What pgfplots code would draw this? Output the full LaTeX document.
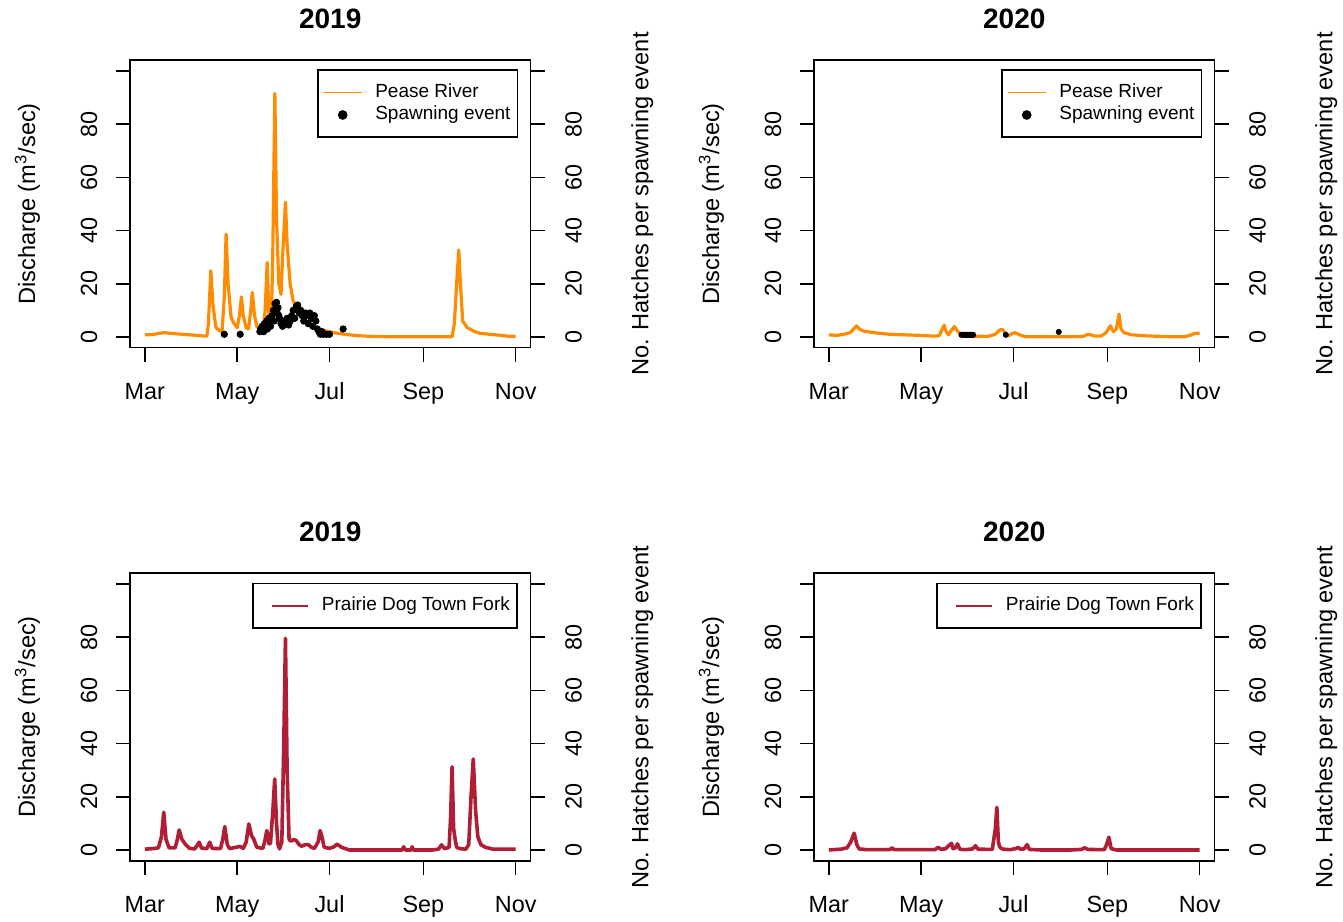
\documentclass[border=0pt]{standalone}
\usepackage{fontspec}
\setmainfont{Liberation Sans}
\usepackage{pgfplots}
\pgfplotsset{compat=1.18}
\definecolor{pease}{RGB}{255,140,0}
\definecolor{pdtf}{RGB}{175,30,52}

\pgfplotsset{
  base/.style={
    scale only axis, width=200.25pt, height=143.6pt,
    xmin=-9.8, xmax=254.8, ymin=-4, ymax=104,
    tick align=outside, major tick length=7pt,
    every tick/.style={black, line width=0.8pt},
    ytick={0,20,40,60,80,100}, yticklabels={0,20,40,60,80,{}},
    tick label style={font=\fontsize{11.7}{13}\selectfont},
    label style={font=\fontsize{11.8}{14}\selectfont},
    axis line style={line width=0.9pt},
  },
  leftax/.style={base,
    xtick={0,61,122,184,245}, xticklabels={Mar,May,Jul,Sep,Nov},
    xtick pos=left, ytick pos=left,
    xticklabel style={anchor=base, yshift=-19pt},
    yticklabel style={xshift=-13.5pt, rotate=90, anchor=center},
    ylabel={Discharge (m\textsuperscript{3}/sec)},
    ylabel style={at={(axis description cs:-0.2372,0.5)}, anchor=base},
    title style={font=\fontsize{14}{16}\selectfont\bfseries, at={(axis description cs:0.5,1)}, anchor=base, yshift=10pt},
    legend cell align=left,
    legend style={font=\fontsize{9.5}{11}\selectfont, draw=black, line width=0.8pt,
      anchor=north east, inner xsep=2.5pt, inner ysep=5.5pt,
      nodes={inner sep=1pt, text height=7pt, text depth=2.3pt},
      /tikz/every odd column/.append style={column sep=5.5pt}},
  },
  rightax/.style={base,
    axis y line*=right, axis x line=none,
    yticklabel style={xshift=14.5pt, rotate=90, anchor=center},
    ylabel={No. Hatches per spawning event},
    ylabel style={at={(axis description cs:1.2941,0.5)}, anchor=base},
  },
  pline/.style={pease, line width=1.6pt, line join=round, forget plot},
  rline/.style={pdtf, line width=1.8pt, line join=round, forget plot},
  spawn/.style={only marks, mark=*, mark size=1.6pt, black, forget plot},
}

\begin{document}
\begin{tikzpicture}
\useasboundingbox (0,0) rectangle (671.5pt,460.5pt);

% ---------------- Top left: Pease River 2019
\begin{axis}[leftax, at={(65pt,286.7pt)}, anchor=south west, title={2019},
  legend style={at={(0.9696,0.969)}}]
\addlegendimage{legend image code/.code={\draw[pease,line width=0.6pt] (0pt,0pt) -- (19pt,0pt);}}
\addlegendentry{Pease River}
\addlegendimage{legend image code/.code={\path[draw=none] (0pt,-0.1pt) rectangle (19pt,0.1pt);\fill[black] (9.5pt,0pt) circle (2pt);}}
\addlegendentry{Spawning event}
\addplot[pline] table {
0 0.8
5 0.9
10 1.4
13 1.6
18 1.3
25 1.0
32 0.7
38 0.4
41 0.3
42 5
43.6 24.9
45 12
47 3.5
49 2.5
51 2.0
52.5 15
53.7 38.7
55 20
57 7.3
59 5
61 3.5
62.5 8
63.8 15.1
65 8
67 3.5
68.5 3
70 10
71 16.7
72.5 8
74 4
76 3
78 2.5
79.5 10
80.8 28
82 8
83.5 4.8
84.5 30
85.9 91.6
87 45
88.5 20
90 16
91 30
92.9 50.7
94 35
96 20
98 13.6
101 10
104 7.3
108 5
112 3.5
118 2.5
125 1.6
132 1.0
140 0.5
150 0.2
160 0.1
175 0.1
190 0.1
203 0.1
204.5 5
206 20
207.4 32.7
208.5 20
210 6
213 3.5
218 2
222 1.3
228 1.0
235 0.6
240 0.3
245 0.2
};
\end{axis}
\begin{axis}[rightax, at={(65pt,286.7pt)}, anchor=south west]
\addplot[spawn] table {
52.5 1
63 1
76 2
76.5 3
77 2.5
77.5 4
78 3
78.5 2
79 5
79.5 3.5
80 4
80.5 6
81 3
81.5 5
82 7
83 4
84 8
85 10
85.5 6
86 12.5
87 13
87.5 9
88 11
88.5 8
89 7
90 5
91 4
92 6
93 5
94 7
95 4.5
96 6
97 8
98 10
99 7
100 11.5
101 12
102 9
103 10
104 8
105 6
106 9
107 8
108 5
109 9
110 7
111 4
112 8
113 6
114 3
115 2
116 1
117 2
118 1
120 1
122 1
131 3
};
\end{axis}

% ---------------- Top right: Pease River 2020
\begin{axis}[leftax, at={(407pt,286.7pt)}, anchor=south west, title={2020},
  legend style={at={(0.9696,0.969)}}]
\addlegendimage{legend image code/.code={\draw[pease,line width=0.6pt] (0pt,0pt) -- (19pt,0pt);}}
\addlegendentry{Pease River}
\addlegendimage{legend image code/.code={\path[draw=none] (0pt,-0.1pt) rectangle (19pt,0.1pt);\fill[black] (9.5pt,0pt) circle (2pt);}}
\addlegendentry{Spawning event}
\addplot[pline] table {
0 0.8
5 0.6
10 1.0
14 1.6
16.5 3
18.3 4.2
20 3
23 2.2
30 1.6
40 1.0
50 0.8
60 0.6
70 0.3
73 0.5
74.5 2.5
76.2 4.4
77.5 2
79 0.8
81 2.5
83 3.9
85 2.2
88 0.6
95 0.3
105 0.2
110 1.0
112.5 2.5
114.5 2.9
116.5 1.5
118.5 0.4
121 1.2
123 1.6
126 0.8
130 0.1
145 0.1
160 0.1
168 0.2
171 1.0
173 0.8
176 0.3
180 0.4
183 1.5
186 4.2
188 2
190 3
191.7 8.6
193 3
195 1.6
200 0.8
210 0.4
225 0.1
235 0.1
239 0.7
241.7 1.3
245 1.4
};
\end{axis}
\begin{axis}[rightax, at={(407pt,286.7pt)}, anchor=south west]
\addplot[spawn, mark size=1.3pt] table {
87.6 0.8
88.3 0.8
89.0 0.8
89.7 0.8
90.4 0.8
91.1 0.8
91.8 0.8
92.5 0.8
93.2 0.8
93.9 0.8
94.6 0.8
95.3 0.8
116.9 0.8
151.9 1.9
};
\end{axis}

% ---------------- Bottom left: Prairie Dog Town Fork 2019
\begin{axis}[leftax, at={(65pt,30.2pt)}, anchor=south west, title={2019},
  legend style={at={(0.968,0.9676)}}]
\addlegendimage{legend image code/.code={\path[draw=none] (0pt,-0.1pt) rectangle (1pt,0.1pt);\draw[pdtf,line width=0.8pt] (7pt,0pt) -- (25pt,0pt);}}
\addlegendentry{Prairie Dog Town Fork}
\addplot[rline] table {
0 0.3
5 0.5
9 0.8
11 5
12.5 14.2
14 4
16 0.8
20 0.8
21.5 4
22.7 7.5
24.5 4
27 2
29.5 0.6
33 0.4
35.9 2.9
37.5 0.7
41 0.5
42.9 2.9
44.5 0.6
50 0.5
51.5 4
52.8 8.8
54.5 2
56 0.5
60 1
63 1.3
65 0.6
67 3
68.7 9.8
70.5 5.4
72 4
74 1
78 0.6
79.5 4
80.6 7.3
82 2.3
83 2.5
84.5 14
85.8 26.7
87 10
88 2
89 0.4
90.5 3
91.8 40
92.9 79.6
94 30
95.3 4
96.5 3.3
98.5 4
100 3.5
102 2
103.5 1.4
106 2
108 2
110 1
112 0.6
114.5 3
115.8 7.3
117 5
118.5 1
122 0.6
125 1.2
127 2.2
130 1
135 0
145 0
160 0
170 0
171 1.2
172 0
176 0
176.6 1.2
177.5 0
190 0
194 0.3
196 1.9
198 0.5
201 1
202 12
203 31.3
204 8
205 4
206 1
208 0.5
212 0.3
214 2
215.5 20
217 34.2
218.5 15
220 5
222 2
225 1
230 0.3
245 0.3
};
\end{axis}
\begin{axis}[rightax, at={(65pt,30.2pt)}, anchor=south west]
\addplot[draw=none, forget plot] coordinates {(0,0)};
\end{axis}

% ---------------- Bottom right: Prairie Dog Town Fork 2020
\begin{axis}[leftax, at={(407pt,30.2pt)}, anchor=south west, title={2020},
  legend style={at={(0.968,0.9676)}}]
\addlegendimage{legend image code/.code={\path[draw=none] (0pt,-0.1pt) rectangle (1pt,0.1pt);\draw[pdtf,line width=0.8pt] (7pt,0pt) -- (25pt,0pt);}}
\addlegendentry{Prairie Dog Town Fork}
\addplot[rline] table {
0 0
8 0.3
12 0.8
14.5 3
16.7 6.3
18.5 2
20 0.4
25 0.1
40 0.1
41.8 0.8
43 0.1
70 0.1
72.2 1
74 0.3
77 0.4
79 1.5
81 2.5
82 0.5
83.5 0.8
85 2.3
86.5 0.3
90 0.1
95 0.4
96.9 1.6
98.5 0.3
108 0.2
110 8
111 16
112 3
113 1
115 0.3
120 0.1
124 0.6
125 1
126.5 0.3
129 0.4
131 2
132.5 0.2
140 0
160 0
167 0.2
169 0.8
171 0.2
182 0.1
183.5 2
185 4.8
186.5 0.5
190 0
245 0
};
\end{axis}
\begin{axis}[rightax, at={(407pt,30.2pt)}, anchor=south west]
\addplot[draw=none, forget plot] coordinates {(0,0)};
\end{axis}
\end{tikzpicture}
\end{document}
